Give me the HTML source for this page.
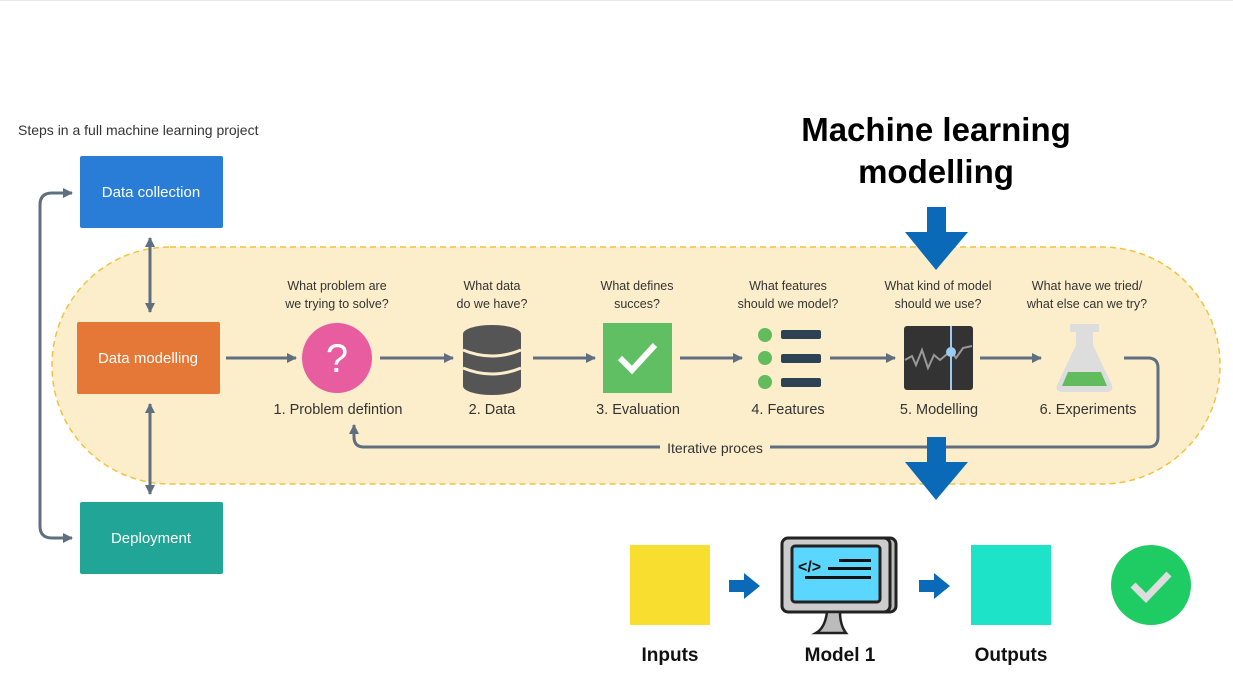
<!DOCTYPE html>
<html><head><meta charset="utf-8"><style>
body{margin:0;background:#fff;width:1233px;height:676px;overflow:hidden}
svg{display:block}
text{font-family:"Liberation Sans",sans-serif}
</style></head><body>
<svg width="1233" height="676" viewBox="0 0 1233 676">
<defs>
<marker id="a" markerWidth="12" markerHeight="12" refX="9" refY="6" orient="auto-start-reverse" markerUnits="userSpaceOnUse"><path d="M0,1 L10,6 L0,11 z" fill="#5f6f80"/></marker>
</defs>
<line x1="0" y1="0.5" x2="1233" y2="0.5" stroke="#e6e6e6"/>
<rect x="52" y="247" width="1168" height="237" rx="118" fill="#fdeecb" stroke="#f2c23f" stroke-width="1.5" stroke-dasharray="6,4"/>
<text x="18" y="135" font-size="14" fill="#333">Steps in a full machine learning project</text>
<text x="936" y="141" font-size="33" font-weight="bold" text-anchor="middle" fill="#000">Machine learning</text>
<text x="936" y="183" font-size="33" font-weight="bold" text-anchor="middle" fill="#000">modelling</text>
<g stroke="#5f6f80" stroke-width="3" fill="none">
<path d="M72,193 H52 Q40,193 40,205 V526 Q40,538 52,538 H72" marker-start="url(#a)" marker-end="url(#a)"/>
<line x1="150" y1="238" x2="150" y2="312" marker-start="url(#a)" marker-end="url(#a)"/>
<line x1="150" y1="404" x2="150" y2="494" marker-start="url(#a)" marker-end="url(#a)"/>
<line x1="226" y1="358" x2="296" y2="358" marker-end="url(#a)"/>
<line x1="380" y1="358" x2="453" y2="358" marker-end="url(#a)"/>
<line x1="533" y1="358" x2="595" y2="358" marker-end="url(#a)"/>
<line x1="680" y1="358" x2="742" y2="358" marker-end="url(#a)"/>
<line x1="830" y1="358" x2="895" y2="358" marker-end="url(#a)"/>
<line x1="980" y1="358" x2="1041" y2="358" marker-end="url(#a)"/>
<path d="M1124,358 H1148 Q1158,358 1158,368 V437 Q1158,447 1148,447 H364 Q354,447 354,437 V425" marker-end="url(#a)"/>
</g>
<rect x="660" y="440" width="110" height="15" fill="#fdeecb"/>
<text x="715" y="453" font-size="14" text-anchor="middle" fill="#333">Iterative proces</text>
<rect x="80" y="156" width="143" height="72" rx="2" fill="#2a7dd6"/>
<text x="151" y="197" font-size="15" text-anchor="middle" fill="#fff">Data collection</text>
<rect x="77" y="322" width="143" height="72" rx="2" fill="#e57836"/>
<text x="148" y="363" font-size="15" text-anchor="middle" fill="#fff">Data modelling</text>
<rect x="80" y="502" width="143" height="72" rx="2" fill="#20a596"/>
<text x="151" y="543" font-size="15" text-anchor="middle" fill="#fff">Deployment</text>
<g font-size="12.5" fill="#333" text-anchor="middle">
<text x="337" y="290">What problem are</text><text x="337" y="308">we trying to solve?</text>
<text x="492" y="290">What data</text><text x="492" y="308">do we have?</text>
<text x="637" y="290">What defines</text><text x="637" y="308">succes?</text>
<text x="788" y="290">What features</text><text x="788" y="308">should we model?</text>
<text x="938" y="290">What kind of model</text><text x="938" y="308">should we use?</text>
<text x="1087" y="290">What have we tried/</text><text x="1087" y="308">what else can we try?</text>
</g>
<g font-size="14.5" fill="#333" text-anchor="middle">
<text x="338" y="414">1. Problem defintion</text>
<text x="492" y="414">2. Data</text>
<text x="638" y="414">3. Evaluation</text>
<text x="788" y="414">4. Features</text>
<text x="939" y="414">5. Modelling</text>
<text x="1088" y="414">6. Experiments</text>
</g>
<circle cx="337" cy="358" r="35" fill="#e85d9f"/>
<text x="337" y="372" font-size="40" text-anchor="middle" fill="#fff">?</text>
<g fill="#555">
<ellipse cx="492" cy="334" rx="29" ry="9"/>
<rect x="463" y="334" width="58" height="52"/>
<ellipse cx="492" cy="386" rx="29" ry="9"/>
</g>
<g stroke="#fdeecb" stroke-width="3" fill="none"><path d="M463,350 Q492,362 521,350"/><path d="M463,368 Q492,380 521,368"/></g>
<rect x="603" y="323" width="69" height="70" fill="#5fbf62"/>
<path d="M620,358 L632,370 L655,345" stroke="#fff" stroke-width="6" fill="none"/>
<g fill="#62bb5c"><circle cx="765" cy="335" r="7"/><circle cx="765" cy="358" r="7"/><circle cx="765" cy="382" r="7"/></g>
<g fill="#2d4353"><rect x="781" y="330" width="40" height="9" rx="2"/><rect x="781" y="354" width="40" height="9" rx="2"/><rect x="781" y="378" width="40" height="9" rx="2"/></g>
<rect x="904" y="326" width="69" height="64" rx="3" fill="#333"/>
<path d="M905,360 L912,356 L916,365 L922,350 L928,368 L934,355 L940,360 L946,355 L951,351 L956,358 L963,348 L972,346" stroke="#999" stroke-width="2" fill="none"/>
<line x1="951" y1="326" x2="951" y2="390" stroke="#9bcbf2" stroke-width="2"/>
<circle cx="951" cy="352" r="5" fill="#9bcbf2"/>
<rect x="1070" y="324" width="29" height="8" fill="#ddd"/>
<path d="M1076,332 H1093 V345 L1112,385 Q1114,392 1106,392 H1063 Q1055,392 1057,385 L1076,345 z" fill="#ddd"/>
<path d="M1068,372 H1101 L1107,386 H1062 z" fill="#62bb5c"/>
<g fill="#0a6ab8">
<rect x="927" y="207" width="19" height="26"/><path d="M905,232 H968 L936,270 z"/>
<rect x="927" y="437" width="19" height="26"/><path d="M905,462 H968 L936,500 z"/>
<path d="M729,580 H744 V573 L760,586 L744,599 V592 H729 z"/>
<path d="M919,580 H934 V573 L950,586 L934,599 V592 H919 z"/>
</g>
<rect x="630" y="545" width="80" height="80" fill="#f8de2f"/>
<rect x="971" y="545" width="80" height="80" fill="#1de3c8"/>
<circle cx="1151" cy="585" r="40" fill="#1fcc63"/>
<path d="M1133,585 L1146,598 L1169,574" stroke="#ddd" stroke-width="7" fill="none"/>
<rect x="788" y="538" width="108" height="74" rx="6" fill="#bbb" stroke="#222" stroke-width="3"/>
<rect x="782" y="538" width="108" height="74" rx="6" fill="#ccc" stroke="#222" stroke-width="3"/>
<rect x="792" y="546" width="88" height="56" rx="3" fill="#5ad6ff" stroke="#222" stroke-width="3"/>
<path d="M827,612 Q825,628 816,633 H846 Q840,625 840,612 z" fill="#bbb" stroke="#222" stroke-width="2.5"/>
<text x="798" y="572" font-size="16" font-weight="bold" fill="#111">&lt;/&gt;</text>
<g fill="#111"><rect x="839" y="559" width="32" height="3"/><rect x="828" y="567" width="43" height="3"/><rect x="805" y="576" width="66" height="3"/></g>
<g font-size="19" font-weight="bold" text-anchor="middle" fill="#111">
<text x="670" y="661">Inputs</text><text x="840" y="661">Model 1</text><text x="1011" y="661">Outputs</text>
</g>
</svg>
</body></html>
